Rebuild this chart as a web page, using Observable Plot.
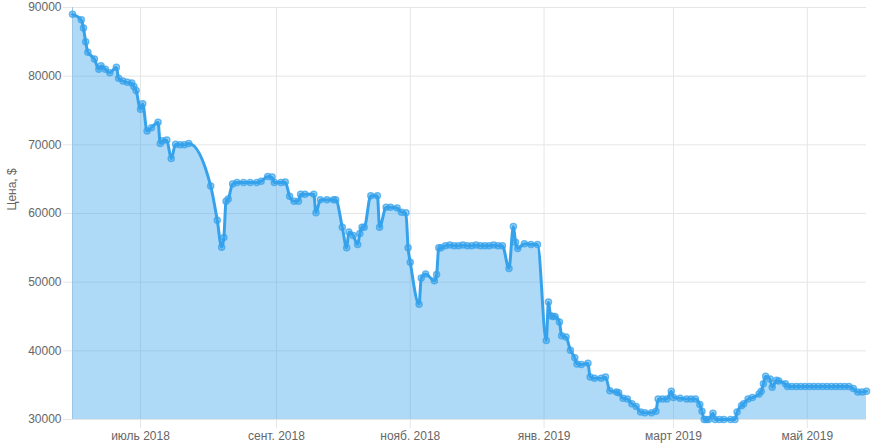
<!DOCTYPE html>
<html>
<head>
<meta charset="utf-8">
<script src="https://cdn.jsdelivr.net/npm/d3@7"></script>
<script src="https://cdn.jsdelivr.net/npm/@observablehq/plot@0.6"></script>
<style>
  html, body { margin: 0; padding: 0; background: #fff; }
  #chart svg { display: block; }
</style>
</head>
<body>
<div id="chart"></div>
<script>
const yLabel = "Цена, $";
const yTicks = [30000, 40000, 50000, 60000, 70000, 80000, 90000];
const xTickDates = ["2018-07-01", "2018-09-01", "2018-11-01", "2019-01-01", "2019-03-01", "2019-05-01"];
const xTickLabels = ["июль 2018", "сент. 2018", "нояб. 2018", "янв. 2019", "март 2019", "май 2019"];

const dates = [
  "2018-05-31","2018-06-04","2018-06-05","2018-06-06","2018-06-07","2018-06-10","2018-06-12","2018-06-13",
  "2018-06-15","2018-06-17","2018-06-20","2018-06-21","2018-06-23","2018-06-25","2018-06-27","2018-06-28",
  "2018-06-29","2018-07-01","2018-07-02","2018-07-04","2018-07-06","2018-07-09","2018-07-10","2018-07-11",
  "2018-07-13","2018-07-15","2018-07-17","2018-07-19","2018-07-21","2018-07-23","2018-08-02","2018-08-05",
  "2018-08-07","2018-08-08","2018-08-09","2018-08-10","2018-08-12","2018-08-14","2018-08-17","2018-08-20",
  "2018-08-23","2018-08-25","2018-08-28","2018-08-30","2018-08-31","2018-09-03","2018-09-05","2018-09-07",
  "2018-09-09","2018-09-11","2018-09-12","2018-09-14","2018-09-18","2018-09-19","2018-09-21","2018-09-24",
  "2018-09-27","2018-09-28","2018-10-01","2018-10-03","2018-10-04","2018-10-06","2018-10-08","2018-10-09",
  "2018-10-10","2018-10-11","2018-10-14","2018-10-17","2018-10-18","2018-10-21","2018-10-23","2018-10-26",
  "2018-10-28","2018-10-30","2018-10-31","2018-11-01","2018-11-05","2018-11-06","2018-11-08","2018-11-12",
  "2018-11-13","2018-11-14","2018-11-15","2018-11-17","2018-11-19","2018-11-21","2018-11-23","2018-11-25",
  "2018-11-27","2018-11-29","2018-12-01","2018-12-03","2018-12-05","2018-12-07","2018-12-09","2018-12-11",
  "2018-12-13","2018-12-16","2018-12-18","2018-12-19","2018-12-20","2018-12-23","2018-12-26","2018-12-29",
  "2019-01-02","2019-01-03","2019-01-04","2019-01-05","2019-01-06","2019-01-08","2019-01-09","2019-01-11",
  "2019-01-13","2019-01-15","2019-01-16","2019-01-18","2019-01-21","2019-01-22","2019-01-24","2019-01-27",
  "2019-01-29","2019-01-31","2019-02-03","2019-02-04","2019-02-06","2019-02-08","2019-02-10","2019-02-12",
  "2019-02-14","2019-02-16","2019-02-19","2019-02-21","2019-02-22","2019-02-24","2019-02-26","2019-02-28",
  "2019-03-01","2019-03-04","2019-03-07","2019-03-09","2019-03-11","2019-03-13","2019-03-14","2019-03-15",
  "2019-03-16","2019-03-17","2019-03-19","2019-03-20","2019-03-22","2019-03-24","2019-03-27","2019-03-29",
  "2019-03-30","2019-04-01","2019-04-02","2019-04-04","2019-04-06","2019-04-09","2019-04-10","2019-04-11",
  "2019-04-12","2019-04-14","2019-04-15","2019-04-17","2019-04-18","2019-04-21","2019-04-22","2019-04-24",
  "2019-04-26","2019-04-28","2019-04-30","2019-05-02","2019-05-04","2019-05-06","2019-05-08","2019-05-10",
  "2019-05-12","2019-05-14","2019-05-16","2019-05-18","2019-05-20","2019-05-22","2019-05-24","2019-05-26",
  "2019-05-28"
];
const prices = [
  89000,88200,87000,85000,83500,82500,81000,81500,
  81000,80500,81300,79700,79300,79100,79000,78500,
  77900,75200,76000,72000,72500,73300,70200,70600,
  70700,68000,70100,70000,70000,70200,64000,59000,
  55100,56500,61800,62100,64300,64500,64500,64500,
  64500,64700,65400,65300,64500,64500,64600,62500,
  61800,61800,62800,62800,62800,60100,62000,62000,
  62000,62000,58000,55000,57300,56800,55500,57100,
  58000,58000,62600,62600,58000,60900,60900,60800,
  60200,60100,55000,52900,46800,50600,51200,50200,
  51100,55000,55000,55300,55400,55300,55300,55400,
  55300,55300,55400,55300,55300,55300,55400,55300,
  55300,52000,58100,55800,54900,55600,55500,55500,
  41500,47100,45100,45000,45000,44200,42200,42000,
  40100,39000,38100,38000,38200,36200,36000,36000,
  36200,34200,34000,33900,33100,33000,32300,31900,
  31100,31000,31000,31200,33000,33000,33000,34100,
  33200,33100,33000,33000,33000,32200,31200,30000,
  30000,30000,30900,30000,30000,30000,30000,30000,
  31100,32000,32300,33000,33200,33700,34100,35200,
  36300,35900,34700,35700,35600,35200,34800,34800,
  34800,34800,34800,34800,34800,34800,34800,34800,
  34800,34800,34800,34800,34800,34500,34000,34000,
  34100
];

const parse = d3.utcParse("%Y-%m-%d");
const data = dates.map((d, i) => ({date: parse(d), price: prices[i]}));
const xTicks = xTickDates.map(parse);

const blue = "rgb(54,162,235)";
const blueFill = "rgba(54,162,235,0.4)";
const gridColor = "#e6e6e6";

const chart = Plot.plot({
  width: 894,
  height: 447,
  marginLeft: 72,
  marginRight: 28,
  marginTop: 7,
  marginBottom: 28,
  style: {fontFamily: "'Liberation Sans', Arial, sans-serif", fontSize: "12px", background: "#fff"},
  x: {type: "utc", domain: [data[0].date, data[data.length - 1].date]},
  y: {domain: [yTicks[0], yTicks[yTicks.length - 1]]},
  marks: [
    Plot.gridY(yTicks, {stroke: gridColor, strokeOpacity: 1}),
    Plot.gridX(xTicks, {stroke: gridColor, strokeOpacity: 1}),
    Plot.areaY(data, {x: "date", y1: yTicks[0], y2: "price", curve: "monotone-x", fill: blueFill}),
    Plot.ruleX([data[0].date], {stroke: "#9cc6e4", strokeOpacity: 1}),
    Plot.lineY(data, {x: "date", y: "price", curve: "monotone-x", stroke: blue, strokeWidth: 3}),
    Plot.dot(data, {x: "date", y: "price", r: 3, fill: blueFill, stroke: "rgba(54,162,235,0.75)", strokeWidth: 1.5}),
    Plot.axisY(yTicks, {tickSize: 9, tickPadding: 2, stroke: gridColor, fill: "#666", label: null, tickFormat: d => String(d)}),
    Plot.axisX(xTicks, {tickSize: 9, tickPadding: 3, stroke: gridColor, fill: "#666", label: null, tickFormat: (d, i) => xTickLabels[i]}),
    Plot.text([yLabel], {frameAnchor: "left", rotate: -90, dx: -60, dy: -3, fill: "#666", fontSize: 12})
  ]
});
document.getElementById("chart").appendChild(chart);
</script>
</body>
</html>
